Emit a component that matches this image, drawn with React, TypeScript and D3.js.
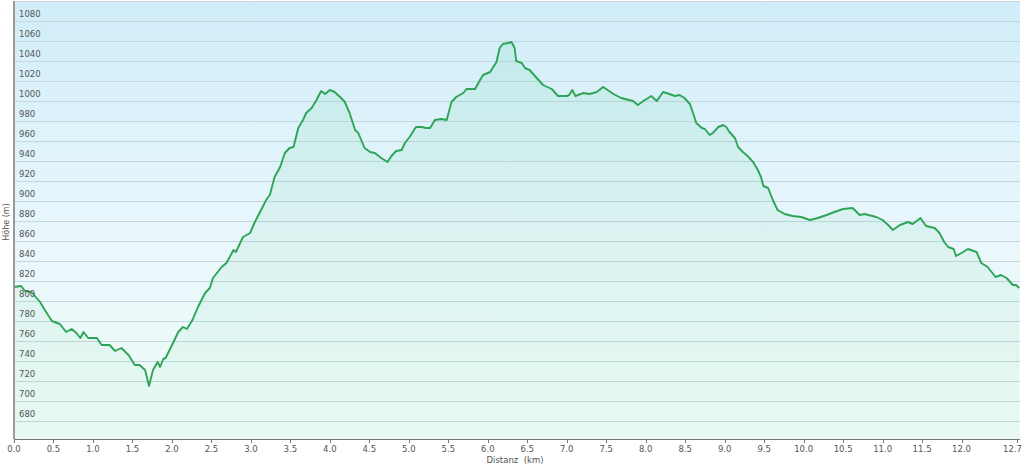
import React from "react";
import * as d3 from "d3";

const distKm = [0.00,0.09,0.14,0.22,0.33,0.39,0.48,0.58,0.66,0.73,0.79,0.84,0.88,0.94,1.05,1.11,1.21,1.28,1.36,1.45,1.53,1.59,1.66,1.71,1.76,1.82,1.85,1.89,1.92,1.97,2.02,2.08,2.14,2.19,2.26,2.33,2.42,2.48,2.52,2.63,2.69,2.78,2.81,2.90,2.99,3.05,3.11,3.20,3.24,3.30,3.37,3.43,3.49,3.54,3.60,3.66,3.70,3.77,3.83,3.89,3.94,4.00,4.06,4.13,4.19,4.25,4.32,4.36,4.44,4.51,4.57,4.65,4.73,4.78,4.84,4.91,4.95,5.01,5.09,5.16,5.22,5.27,5.33,5.41,5.48,5.54,5.60,5.69,5.73,5.84,5.88,5.94,6.03,6.11,6.15,6.19,6.26,6.30,6.34,6.36,6.43,6.47,6.53,6.62,6.70,6.81,6.89,7.00,7.03,7.07,7.11,7.21,7.29,7.38,7.46,7.50,7.59,7.69,7.79,7.84,7.90,7.97,8.07,8.14,8.22,8.30,8.37,8.43,8.49,8.56,8.60,8.64,8.71,8.75,8.81,8.85,8.92,8.98,9.02,9.06,9.13,9.17,9.23,9.29,9.36,9.42,9.46,9.49,9.55,9.61,9.67,9.76,9.86,9.97,10.08,10.18,10.29,10.39,10.50,10.62,10.71,10.77,10.92,11.00,11.07,11.13,11.22,11.32,11.38,11.48,11.55,11.66,11.72,11.78,11.83,11.90,11.93,12.02,12.08,12.19,12.25,12.33,12.43,12.50,12.57,12.65,12.69,12.73];

const elevM = [814,815,810,809,799,791,780,777,769,772,768,763,769,763,763,756,756,750,753,746,736,736,731,715,731,739,734,742,743,751,759,769,774,772,781,794,808,813,823,834,838,851,849,864,868,879,888,902,906,924,934,948,953,954,973,981,988,993,1001,1010,1007,1011,1009,1004,999,988,971,968,953,949,948,943,939,945,950,951,958,964,974,974,973,973,981,982,981,999,1004,1008,1012,1012,1018,1026,1029,1039,1053,1057,1058,1059,1053,1040,1038,1033,1031,1023,1016,1012,1005,1005,1006,1011,1005,1008,1007,1009,1014,1012,1007,1003,1001,1000,996,1000,1005,1000,1009,1007,1005,1006,1003,997,988,978,973,972,966,968,974,976,974,969,963,954,949,945,939,931,924,915,913,901,891,887,885,884,881,883,886,889,892,893,886,887,884,881,876,871,876,879,877,883,875,873,868,859,854,852,845,849,852,849,838,834,824,826,823,816,816,813];

const xTickValues = [0,0.5,1,1.5,2,2.5,3,3.5,4,4.5,5,5.5,6,6.5,7,7.5,8,8.5,9,9.5,10,10.5,11,11.5,12,12.7];
const yTickValues = [680,700,720,740,760,780,800,820,840,860,880,900,920,940,960,980,1000,1020,1040,1060,1080];
const xTitle = "Distanz  (km)";
const yTitle = "Höhe (m)";

export default function App() {
  const W = 1024, H = 464;
  const left = 14, right = 1020, top = 1, bottom = 439;
  const x = d3.scaleLinear().domain([0, 12.74]).range([left, right]);
  const y = d3.scaleLinear().domain([662, 1100]).range([bottom, top]);
  const data = distKm.map((d, i) => [d, elevM[i]] as [number, number]);
  const line = d3.line<[number, number]>().x(d => x(d[0])).y(d => y(d[1])).curve(d3.curveLinear);
  const area = d3.area<[number, number]>().x(d => x(d[0])).y0(bottom).y1(d => y(d[1]));
  const font = "Verdana, 'DejaVu Sans', sans-serif";
  const lastTick = xTickValues[xTickValues.length - 1];
  return (
    <svg width={W} height={H} style={{ position: "absolute", left: 0, top: 0, background: "#fff" }}>
      <defs>
        <linearGradient id="bg" x1="0" y1="0" x2="0" y2="1">
          <stop offset="0" stopColor="#d0edf9" />
          <stop offset="0.55" stopColor="#eaf7fc" />
          <stop offset="1" stopColor="#f0fcf7" />
        </linearGradient>
        <linearGradient id="ar" x1="0" y1="0" x2="0" y2="1">
          <stop offset="0" stopColor="#3cc47a" stopOpacity="0.11" />
          <stop offset="1" stopColor="#3cc47a" stopOpacity="0.05" />
        </linearGradient>
      </defs>
      <rect x={left} y={top} width={right - left} height={bottom - top} fill="url(#bg)" />
      <line x1={left} x2={right} y1={top + 0.5} y2={top + 0.5} stroke="#c9d6dc" />
      {yTickValues.map(v => (
        <line key={v} x1={left} x2={right} y1={Math.round(y(v)) + 0.5} y2={Math.round(y(v)) + 0.5} stroke="#c5d7de" strokeWidth={1.2} />
      ))}
      <path d={area(data) || ""} fill="url(#ar)" />
      <path d={line(data) || ""} fill="none" stroke="#2ea556" strokeWidth={1.9} strokeLinejoin="round" />
      {yTickValues.map(v => (
        <text key={"t" + v} x={left + 5} y={y(v) - 4} fontSize={8.5} fill="#555" fontFamily={font}>{v}</text>
      ))}
      <line x1={left} x2={left} y1={top} y2={bottom} stroke="#9a9a9a" strokeWidth={2} />
      <line x1={left} x2={right} y1={bottom + 0.5} y2={bottom + 0.5} stroke="#777" strokeWidth={1} />
      {xTickValues.map(v => (
        <g key={"x" + v}>
          <line x1={Math.round(x(v)) + 0.5} x2={Math.round(x(v)) + 0.5} y1={bottom} y2={bottom + 4} stroke="#777" />
          <text x={v === lastTick ? right + 2 : x(v)} y={452} fontSize={8.5} fill="#555" textAnchor={v === lastTick ? "end" : "middle"} fontFamily={font}>{v.toFixed(1)}</text>
        </g>
      ))}
      <text x={515} y={463} fontSize={8.5} fill="#555" textAnchor="middle" fontFamily={font} style={{ whiteSpace: "pre" }}>{xTitle}</text>
      <text transform={`translate(9,${222}) rotate(-90)`} fontSize={8} fill="#555" textAnchor="middle" fontFamily={font}>{yTitle}</text>
    </svg>
  );
}
